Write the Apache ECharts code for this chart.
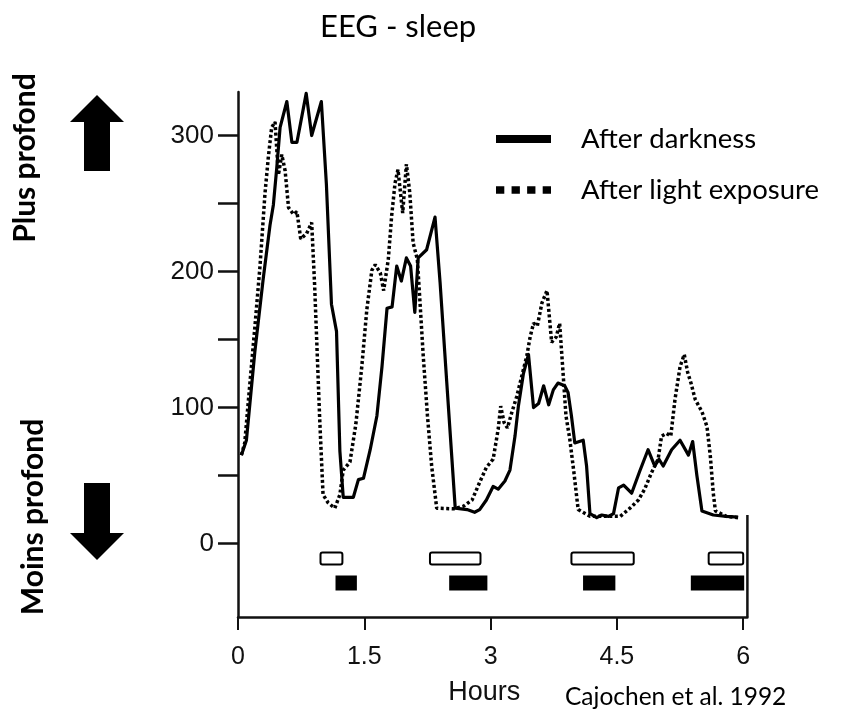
<!DOCTYPE html>
<html>
<head>
<meta charset="utf-8">
<script src="https://cdn.jsdelivr.net/npm/echarts@6/dist/echarts.min.js"></script>
<style>html,body{margin:0;padding:0;background:#fff;}#chart{width:858px;height:711px;}</style>
</head>
<body>
<div id="chart"></div>
<script>
// ---- Data ----
const darkHours = [0.04,0.10,0.20,0.30,0.38,0.42,0.46,0.50,0.58,0.64,0.70,0.81,0.875,0.99,1.05,1.11,1.17,1.21,1.25,1.33,1.37,1.43,1.49,1.57,1.65,1.71,1.77,1.83,1.885,1.94,2.00,2.05,2.10,2.14,2.24,2.34,2.40,2.48,2.58,2.72,2.81,2.87,2.95,3.03,3.09,3.17,3.23,3.29,3.33,3.39,3.45,3.51,3.57,3.63,3.69,3.745,3.80,3.88,3.92,3.96,4.00,4.10,4.14,4.18,4.26,4.32,4.40,4.46,4.52,4.58,4.675,4.77,4.87,4.95,5.00,5.05,5.15,5.25,5.35,5.40,5.45,5.51,5.645,5.80,5.94];
const darkValues = [65,76,141,195,234,249,276,306,325,295,295,331,300,325,264,176,156,68,34,34,34,47,48,69,94,130,173,174,204,193,210,204,170,210,216,240,192,118,26,25,23,25,32,42,40,46,54,79,101,125,139,100,103,116,102,113,118,116,111,94,74,76,57,22,19,21,20,22,41,43,37,53,69,57,62,57,69,76,65,75,50,24,21,20,19.5];

const lightHours = [0.04,0.08,0.14,0.20,0.26,0.32,0.36,0.40,0.44,0.48,0.52,0.56,0.60,0.66,0.70,0.745,0.815,0.875,0.91,0.94,0.97,1.01,1.07,1.15,1.21,1.25,1.33,1.40,1.47,1.53,1.59,1.63,1.69,1.73,1.785,1.825,1.865,1.90,1.956,2.00,2.04,2.08,2.13,2.16,2.20,2.25,2.30,2.36,2.56,2.68,2.78,2.87,2.95,3.03,3.09,3.12,3.16,3.20,3.25,3.31,3.37,3.43,3.47,3.51,3.555,3.61,3.67,3.725,3.78,3.82,3.86,3.895,3.94,3.99,4.04,4.18,4.30,4.54,4.655,4.755,4.83,4.91,4.99,5.03,5.09,5.14,5.19,5.25,5.30,5.34,5.38,5.43,5.51,5.57,5.61,5.645,5.67,5.80,5.94];
const lightValues = [65,74,117,159,203,257,284,306,310,271,286,274,247,242,244,224,228,236,190,141,92,36,30,26,36,54,60,88,130,172,201,205,199,186,209,241,265,275,243,279,258,221,209,179,138,94,57,26,25.5,27.5,32,45,56,62,84,101,89,85,96,108,123,138,152,162,160,177,186,148,152,162,126,94,77,52,25,20,20,20,26,32,40,52,62,79,81,79,106,130,139,126,118,106,97,86,64,37,24,20,19];

// sleep episode bars (hours): open boxes and filled boxes
const openStart = [0.98, 2.28, 3.96, 5.59];
const openEnd   = [1.24, 2.88, 4.70, 6.00];
const filledStart = [1.17, 2.52, 4.11, 5.39];
const filledEnd   = [1.40, 2.95, 4.47, 6.00];

const xTicks = [0, 1.5, 3, 4.5, 6];
const yTicks = [0, 50, 100, 150, 200, 250, 300];
const yLabels = [0, 100, 200, 300];

const seriesNames = ['After darkness', 'After light exposure'];

// ---- Chart ----
const zip = (a, b) => a.map((v, i) => [v, b[i]]);
const chart = echarts.init(document.getElementById('chart'));

function barRenderer(yTop, yBottom, filled) {
  return function (params, api) {
    const p1 = api.coord([api.value(0), yTop]);
    const p2 = api.coord([api.value(1), yBottom]);
    return {
      type: 'rect',
      shape: { x: p1[0], y: p1[1], width: p2[0] - p1[0], height: p2[1] - p1[1], r: filled ? 0 : 2 },
      style: { fill: filled ? '#000' : '#fff', stroke: '#000', lineWidth: 2 }
    };
  };
}

const axisFont = 'Liberation Sans';
const option = {
  backgroundColor: '#fff',
  animation: false,
  title: {
    text: 'EEG - sleep',
    left: 320, top: 11, padding: 0,
    textStyle: { fontFamily: 'Lato', fontSize: 31, fontWeight: 'normal', color: '#000' }
  },
  legend: {
    orient: 'vertical',
    left: 491, top: 120,
    itemWidth: 55, itemHeight: 30, itemGap: 23,
    selectedMode: false,
    textStyle: { fontFamily: 'Lato', fontSize: 27.5, color: '#000', padding: [0, 0, 0, 25] },
    data: [
      { name: seriesNames[0], icon: 'path://M0,0H55V8H0Z', itemStyle: { color: '#000' } },
      { name: seriesNames[1], icon: 'path://M0,0H8V7H0Z M15,0H23V7H15Z M30,0H38V7H30Z M45,0H53V7H45Z', itemStyle: { color: '#000' } }
    ]
  },
  grid: { left: 238, top: 92, width: 509.4, height: 526 },
  xAxis: {
    type: 'value', min: 0, max: 6.05,
    name: 'Hours', nameLocation: 'middle', nameGap: 62,
    nameTextStyle: { fontFamily: axisFont, fontSize: 27, color: '#111', padding: [0, 17, 0, 0] },
    splitLine: { show: false },
    axisLine: { onZero: false, lineStyle: { color: '#111', width: 2.5 } },
    axisTick: { customValues: xTicks, length: 13, lineStyle: { color: '#111', width: 2 } },
    axisLabel: { customValues: xTicks, margin: 28, fontFamily: axisFont, fontSize: 25, color: '#111' }
  },
  yAxis: {
    type: 'value', min: -54, max: 332,
    splitLine: { show: false },
    axisLine: { show: true, onZero: false, lineStyle: { color: '#111', width: 2.5 } },
    axisTick: { show: true, inside: false, customValues: yTicks, length: 20, lineStyle: { color: '#111', width: 2.5 } },
    axisLabel: { customValues: yLabels, margin: 24, fontFamily: axisFont, fontSize: 26, color: '#111' }
  },
  series: [
    {
      name: seriesNames[0], type: 'line', symbol: 'none', showSymbol: false,
      data: zip(darkHours, darkValues),
      lineStyle: { color: '#000', width: 3.2, type: 'solid', join: 'round' },
      itemStyle: { color: '#000' }, z: 3
    },
    {
      name: seriesNames[1], type: 'line', symbol: 'none', showSymbol: false,
      data: zip(lightHours, lightValues),
      lineStyle: { color: '#000', width: 3.5, type: [3, 2.5] },
      itemStyle: { color: '#000' }, z: 2
    },
    {
      name: 'open episodes', type: 'custom',
      renderItem: barRenderer(-6.6, -15.4, false),
      encode: { x: [0, 1] },
      data: zip(openStart, openEnd), z: 4
    },
    {
      name: 'filled episodes', type: 'custom',
      renderItem: barRenderer(-24.3, -33.8, true),
      encode: { x: [0, 1] },
      data: zip(filledStart, filledEnd), z: 4
    },
    {
      name: 'frame', type: 'line', symbol: 'none', silent: true,
      data: [[6.05, -54], [6.05, 21]],
      lineStyle: { color: '#111', width: 2.5 }
    }
  ],
  graphic: [
    { type: 'polygon', shape: { points: [[97,95],[124,122],[110,122],[110,171],[84,171],[84,122],[70,122]] }, style: { fill: '#000' } },
    { type: 'polygon', shape: { points: [[84,483],[110,483],[110,533],[124,533],[97,560],[70,533],[84,533]] }, style: { fill: '#000' } },
    { type: 'text', x: 25, y: 158, rotation: Math.PI / 2,
      style: { text: 'Plus profond', fontFamily: 'Lato', fontWeight: 'bold', fontSize: 30, fill: '#000', align: 'center', verticalAlign: 'middle' } },
    { type: 'text', x: 33, y: 517, rotation: Math.PI / 2,
      style: { text: 'Moins profond', fontFamily: 'Lato', fontWeight: 'bold', fontSize: 30, fill: '#000', align: 'center', verticalAlign: 'middle' } },
    { type: 'text', x: 565, y: 697,
      style: { text: 'Cajochen et al. 1992', fontFamily: 'Lato', fontSize: 24.5, fill: '#000', align: 'left', verticalAlign: 'middle' } }
  ]
};
chart.setOption(option);
</script>
</body>
</html>
